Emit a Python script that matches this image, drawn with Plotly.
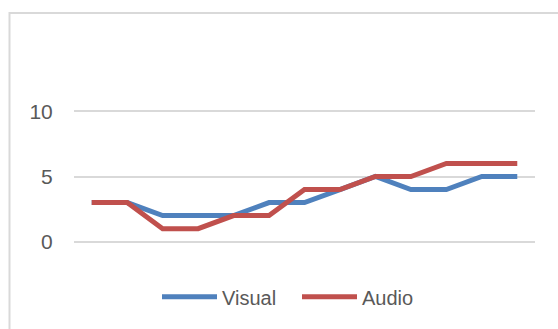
import plotly.graph_objects as go

categories = [str(i) for i in range(1, 14)]
visual = [3, 3, 2, 2, 2, 3, 3, 4, 5, 4, 4, 5, 5]
audio = [3, 3, 1, 1, 2, 2, 4, 4, 5, 5, 6, 6, 6]
y_ticks = [0, 5, 10]

W, H = 558, 329
L, R = 74, 535
# y=10 at pixel 111, y=0 at 241.7 ; extend range slightly so edge gridlines show
y_lo, y_hi = -0.1, 10.1
ppu = (241.7 - 111) / 10.0
T = 111 - (y_hi - 10) * ppu
B = 241.7 + (0 - y_lo) * ppu
pw, ph = R - L, B - T

def px_x(p):
    return (p - L) / pw

def px_y(p):
    return (B - p) / ph

fig = go.Figure()
fig.add_trace(go.Scatter(x=categories, y=visual, name="Visual", mode="lines",
                         line=dict(color="#4F81BD", width=5), cliponaxis=False))
fig.add_trace(go.Scatter(x=categories, y=audio, name="Audio", mode="lines",
                         line=dict(color="#C0504D", width=5), cliponaxis=False))

fig.add_shape(type="rect", xref="paper", yref="paper",
              x0=px_x(9.5), x1=px_x(620), y0=px_y(400), y1=px_y(12.5),
              line=dict(color="#D9D9D9", width=2), layer="below")

fig.update_layout(
    width=W, height=H,
    margin=dict(l=L, r=W - R, t=T, b=H - B, autoexpand=False),
    paper_bgcolor="white", plot_bgcolor="white",
    font=dict(family="Liberation Sans, Arial, sans-serif", size=21, color="#595959"),
    showlegend=True,
    legend=dict(orientation="h", x=px_x(297), xanchor="center", y=px_y(297), yanchor="middle",
                font=dict(size=20, color="#595959"), itemwidth=55,
                entrywidth=70, entrywidthmode="pixels",
                bgcolor="rgba(0,0,0,0)"),
    xaxis=dict(type="category", range=[-0.5, 12.5], showticklabels=False,
               showgrid=False, zeroline=False, showline=False, ticks=""),
    yaxis=dict(range=[y_lo, y_hi], tickvals=y_ticks, showgrid=True, gridcolor="#D9D9D9",
               gridwidth=1.5, zeroline=False, showline=False, ticks="outside",
               ticklen=16, tickcolor="rgba(0,0,0,0)", tickfont=dict(size=21, color="#595959")),
)

fig.write_html("out.html")
